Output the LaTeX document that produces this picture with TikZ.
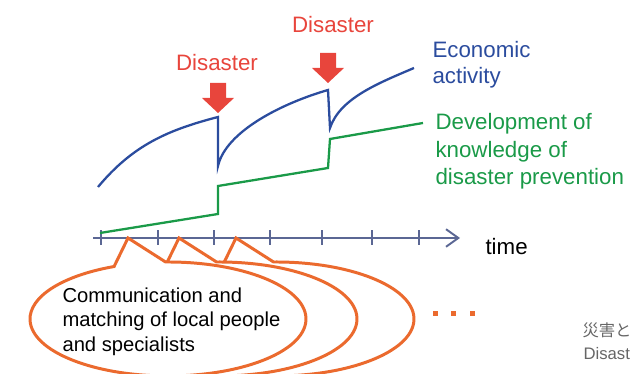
\documentclass[tikz,border=0pt]{standalone}
\usepackage{fontspec}
\setmainfont{Liberation Sans}
\newfontfamily\jpfont{Noto Sans CJK JP}
\usetikzlibrary{arrows.meta}

\definecolor{econblue}{HTML}{2B4C9E}
\definecolor{knowgreen}{HTML}{1A9A48}
\definecolor{disred}{HTML}{E8453C}
\definecolor{axisgray}{HTML}{5B6794}
\definecolor{bubbleorange}{HTML}{EB6A2E}
\definecolor{notegray}{HTML}{666666}

\begin{document}
\begin{tikzpicture}[
            x = 0.02cm, y = 0.02cm, % one unit per pixel
            inner sep = 0pt,
            semithick % line style
        ]

        \tikzstyle{label}=[
            font = \fontsize{12.7pt}{14.8pt}\selectfont,
            align = left
        ]
        \tikzstyle{bubble}=[
            draw = bubbleorange,
            line width = 1.7pt,
            fill = white
        ]
        \tikzstyle{curve}=[line width = 1.3pt]

        \useasboundingbox (0,0) rectangle (630,374);

        % time axis
        \draw[axisgray, line width = 1.1pt, -{Straight Barb[length=7pt, width=10pt]}] (93,136) -- (460,136);
        \foreach \t in {101, 158, 214, 270, 322, 372, 419}
            \draw[axisgray, line width = 1.1pt] (\t,129) -- (\t,144);
        \node[label, anchor=west] (time) at (485,127) {time};

        % economic activity
        \draw[curve, econblue] (98,187) .. controls (133,229) and (168,244) .. (218,257)
            -- (218,208) .. controls (226,243) and (283,271) .. (328,284)
            -- (330,246) .. controls (340,276) and (379,291) .. (414,306);
        \node[label, text=econblue, anchor=west] (econ) at (432,309) {Economic\\activity};

        % knowledge of disaster prevention
        \draw[curve, knowgreen] (100,141) -- (218,160) -- (218,188) -- (328,206)
            -- (330,235) -- (423,251);
        \node[label, text=knowgreen, anchor=west, font=\fontsize{12.7pt}{15.6pt}\selectfont]
            (know) at (435,222.5) {Development of\\knowledge of\\disaster prevention};

        % disasters
        \foreach \ax/\ay in {218/261, 328/291}
            \fill[disred] (\ax,\ay) -- ++(16,15) -- ++(-8,0) -- ++(0,15) -- ++(-16,0)
                -- ++(0,-15) -- ++(-8,0) -- cycle;
        \node[label, text=disred] (dis1) at (217,311) {Disaster};
        \node[label, text=disred] (dis2) at (333,349) {Disaster};

        % callouts
        \foreach \cx in {276, 219, 168}
            \draw[bubble] (\cx-40,136) -- ([shift={(91:138 and 57)}]\cx,55)
                arc[start angle=91, end angle=-247, x radius=138, y radius=57] -- cycle;
        \node[anchor=west, align=left, font=\fontsize{11.5pt}{14pt}\selectfont]
            (talk) at (62,52.5) {Communication and\\matching of local people\\and specialists};
        \foreach \dx in {435, 453, 472}
            \fill[bubbleorange] (\dx-2.5,57.5) rectangle (\dx+2.5,62.5);

        % source note
        \node[anchor=west, text=notegray, font=\jpfont\fontsize{9.3pt}{10pt}\selectfont] (srcjp) at (582,44) {災害と};
        \node[anchor=west, text=notegray, font=\fontsize{9.5pt}{10pt}\selectfont] (srcen) at (583,20) {Disast};

        %\draw[red, dashed] (0,136) -- (630,136);
    \end{tikzpicture}
\end{document}
